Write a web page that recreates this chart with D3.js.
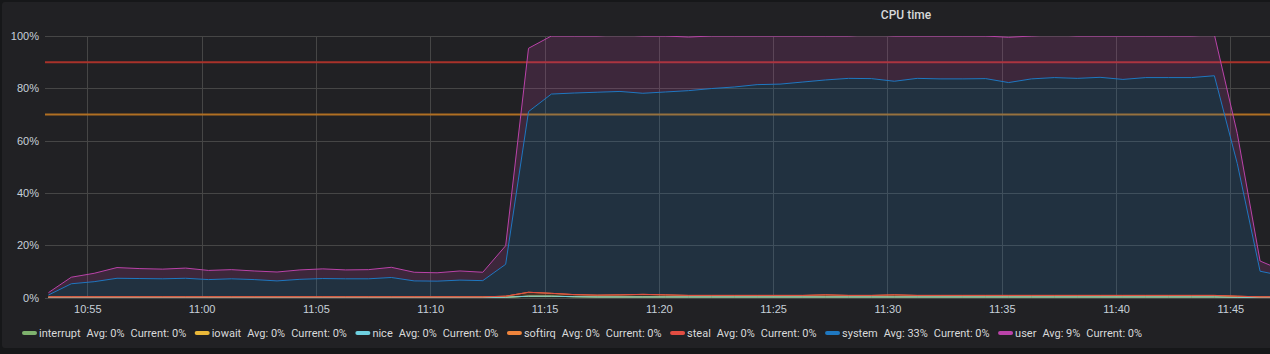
<!DOCTYPE html>
<html>
<head>
<meta charset="utf-8">
<script src="https://cdn.jsdelivr.net/npm/d3@7"></script>
<style>
  html, body { margin: 0; padding: 0; background: #161719; }
  svg { display: block; font-family: Roboto, "Open Sans", sans-serif; }
  .tick text { fill: #c7d0d9; font-size: 11px; }
  .domain { display: none; }
</style>
</head>
<body>
<svg id="chart"></svg>
<script>
// first sample and step (one point per minute)
const startTime = new Date(2020, 0, 1, 10, 53, 18);
const nPoints = 55;

const seriesNames = ["interrupt", "iowait", "nice", "softirq", "steal", "system", "user"];
const seriesColors = ["#7EB26D", "#EAB839", "#6ED0E0", "#EF843C", "#E24D42", "#1F78C1", "#BA43A9"];
const legendAvg = ["0%", "0%", "0%", "0%", "0%", "33%", "9%"];
const legendCurrent = ["0%", "0%", "0%", "0%", "0%", "0%", "0%"];

const interrupt = [0.05,0.05,0.05,0.05,0.05,0.05,0.05,0.05,0.05,0.05,0.05,0.05,0.05,0.05,0.05,0.05,0.05,0.05,0.05,0.05,
  0.1,0.5,0.5,0.3,0.2,0.2,0.2,0.2,0.2,0.2,0.2,0.2,0.2,0.2,0.2,0.2,0.2,0.2,0.2,0.2,0.2,0.2,0.2,0.2,0.2,0.2,0.2,0.2,0.2,0.2,0.2,0.2,
  0.1,0.05,0.05];
const iowait = new Array(nPoints).fill(0);
const nice = new Array(nPoints).fill(0);
const softirq = [0.2,0.2,0.2,0.2,0.2,0.2,0.2,0.2,0.2,0.2,0.2,0.2,0.2,0.2,0.2,0.2,0.2,0.2,0.2,0.2,
  0.4,1.5,1.1,0.8,0.7,0.8,1.0,0.8,0.6,0.6,0.6,0.6,0.6,0.6,0.8,0.6,0.6,0.8,0.6,0.6,0.6,0.6,0.6,0.6,0.6,0.6,0.6,0.6,0.6,0.6,0.6,0.6,
  0.4,0.2,0.2];
const steal = new Array(nPoints).fill(0);
const system = [0.7,5.0,5.8,7.1,7.0,6.9,7.1,6.6,6.9,6.6,6.1,6.7,7.0,6.9,6.9,7.4,6.1,6.0,6.4,6.2,
  12.2,69.1,76.2,77.1,77.6,77.8,76.9,77.6,78.3,79.1,79.7,80.6,80.8,81.6,82.2,83.0,82.9,81.7,83.0,82.8,82.8,82.9,81.4,82.8,83.3,83.0,83.4,82.6,83.3,83.3,83.3,84.0,
  50.8,9.8,8.0];
const user = [0.9,2.5,3.2,4.1,3.8,3.7,3.9,3.5,3.5,3.3,3.4,3.6,3.7,3.4,3.5,3.9,3.3,3.2,3.5,3.2,
  7.1,24.2,22.2,21.8,21.5,21.7,21.9,21.4,20.5,20.1,19.5,18.6,18.4,17.6,16.8,16.2,16.8,17.3,16.2,16.4,16.4,16.3,17.3,16.4,16.4,16.2,15.8,16.6,15.9,15.9,15.9,15.7,
  11.5,3.9,2.0];

const yTicks = [0, 20, 40, 60, 80, 100];
const thresholds = [
  {value: 90, color: "#a8322a"},
  {value: 70, color: "#b06f22"}
];

const width = 1270, height = 354;
const margin = {top: 36, right: 0, bottom: 56.5, left: 45};

const svg = d3.select("#chart").attr("width", width).attr("height", height);

// panel background
svg.append("rect")
  .attr("x", 2).attr("y", 2)
  .attr("width", width + 10).attr("height", 346)
  .attr("rx", 3)
  .attr("fill", "#212124");

const times = d3.range(nPoints).map(i => d3.timeMinute.offset(startTime, i));
const rows = times.map((t, i) => ({
  time: t,
  interrupt: interrupt[i], iowait: iowait[i], nice: nice[i], softirq: softirq[i],
  steal: steal[i], system: system[i], user: user[i]
}));

const x = d3.scaleTime()
  .domain([new Date(2020, 0, 1, 10, 53, 9), new Date(2020, 0, 1, 11, 46, 44)])
  .range([margin.left, width - margin.right]);

const y = d3.scaleLinear()
  .domain([0, 100])
  .range([height - margin.bottom, margin.top]);

// clip
svg.append("defs").append("clipPath").attr("id", "plot-clip")
  .append("rect")
  .attr("x", margin.left).attr("y", margin.top)
  .attr("width", width - margin.left - margin.right)
  .attr("height", y(0) - margin.top + 1);

// grid
const grid = svg.append("g").attr("stroke", "#464646").attr("stroke-width", 1);
grid.selectAll(".hgrid")
  .data(yTicks)
  .enter().append("line")
  .attr("x1", margin.left).attr("x2", width)
  .attr("y1", d => Math.round(y(d)) + 0.5).attr("y2", d => Math.round(y(d)) + 0.5);
grid.selectAll(".vgrid")
  .data(x.ticks(d3.timeMinute.every(5)))
  .enter().append("line")
  .attr("x1", d => Math.round(x(d)) + 0.5).attr("x2", d => Math.round(x(d)) + 0.5)
  .attr("y1", margin.top).attr("y2", y(0));

// threshold lines
svg.selectAll(".threshold")
  .data(thresholds)
  .enter().append("line")
  .attr("x1", margin.left).attr("x2", width)
  .attr("y1", d => y(d.value)).attr("y2", d => y(d.value))
  .attr("stroke", d => d.color)
  .attr("stroke-width", 2);

// stacked series
const stacked = d3.stack().keys(seriesNames)(rows);

const area = d3.area()
  .x(d => x(d.data.time))
  .y0(d => y(d[0]))
  .y1(d => y(d[1]));

const line = d3.line()
  .x(d => x(d.data.time))
  .y(d => y(d[1]));

const plot = svg.append("g").attr("clip-path", "url(#plot-clip)");

plot.selectAll(".area")
  .data(stacked)
  .enter().append("path")
  .attr("d", area)
  .attr("fill", (d, i) => seriesColors[i])
  .attr("fill-opacity", 0.18);

plot.selectAll(".line")
  .data(stacked)
  .enter().append("path")
  .attr("d", line)
  .attr("fill", "none")
  .attr("stroke", (d, i) => seriesColors[i])
  .attr("stroke-width", 1);

// axes
svg.append("g")
  .attr("transform", `translate(0,${y(0)})`)
  .call(d3.axisBottom(x).ticks(d3.timeMinute.every(5)).tickFormat(d3.timeFormat("%H:%M")).tickSize(0).tickPadding(8));

svg.append("g")
  .attr("transform", `translate(${margin.left},0)`)
  .call(d3.axisLeft(y).tickValues(yTicks).tickFormat(d => d + "%").tickSize(0).tickPadding(6));

// title
svg.append("text")
  .attr("x", 906).attr("y", 15)
  .attr("dy", "0.35em")
  .attr("text-anchor", "middle")
  .attr("fill", "#d8d9da")
  .style("font-size", "12px")
  .style("font-weight", "500")
  .text("CPU time");

// legend
const legend = svg.append("g").attr("transform", "translate(0,333)");
let lx = 23;
seriesNames.forEach((name, i) => {
  legend.append("line")
    .attr("x1", lx + 1).attr("x2", lx + 12)
    .attr("y1", 0).attr("y2", 0)
    .attr("stroke", seriesColors[i])
    .attr("stroke-width", 4)
    .attr("stroke-linecap", "round");
  lx += 16;
  [name, "Avg: " + legendAvg[i], "Current: " + legendCurrent[i]].forEach((s, j) => {
    const t = legend.append("text")
      .attr("x", lx).attr("y", 0).attr("dy", "0.35em")
      .attr("fill", "#d8d9da")
      .style("font-size", "11px")
      .text(s);
    lx += t.node().getComputedTextLength() + (j < 2 ? 6 : 9.5);
  });
});
</script>
</body>
</html>
